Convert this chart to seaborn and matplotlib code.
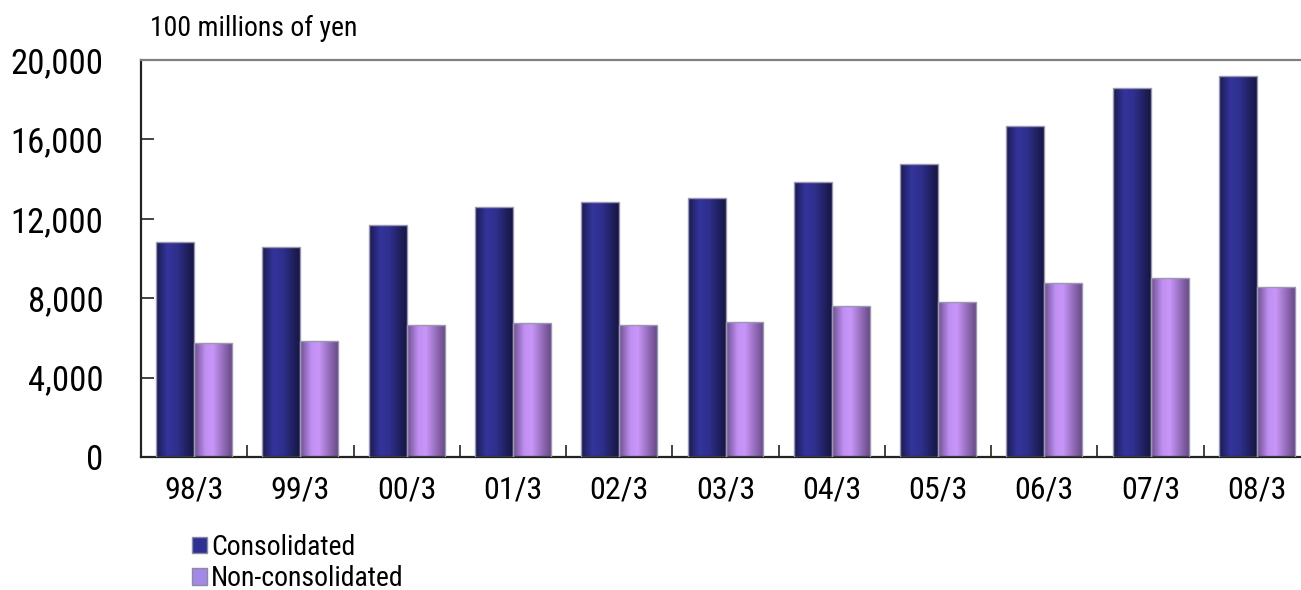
import numpy as np
import pandas as pd
import matplotlib
matplotlib.use("Agg")
import matplotlib.pyplot as plt
from matplotlib.colors import LinearSegmentedColormap
from matplotlib.patches import Patch
from matplotlib.ticker import FixedLocator
import seaborn as sns

periods = ["98/3", "99/3", "00/3", "01/3", "02/3", "03/3", "04/3", "05/3", "06/3", "07/3", "08/3"]
consolidated = [10810, 10600, 11670, 12600, 12850, 13050, 13850, 14760, 16700, 18610, 19190]
non_consolidated = [5730, 5830, 6640, 6750, 6650, 6800, 7600, 7800, 8760, 9000, 8550]
series_names = ["Consolidated", "Non-consolidated"]
y_ticks = [0, 4000, 8000, 12000, 16000, 20000]
unit_label = "100 millions of yen"

df = pd.DataFrame({
    "period": periods * 2,
    "value": consolidated + non_consolidated,
    "series": [series_names[0]] * len(periods) + [series_names[1]] * len(periods),
})

sns.set_style("white")
plt.rcParams["font.family"] = ["Roboto Condensed", "Liberation Sans Narrow", "DejaVu Sans"]
plt.rcParams["text.color"] = "black"
plt.rcParams["xtick.color"] = "black"
plt.rcParams["ytick.color"] = "black"

fig = plt.figure(figsize=(13.01, 5.90), dpi=100)
ax = fig.add_axes([141 / 1301, 1 - 457 / 590, 1169 / 1301, 397 / 590])

base_colors = {series_names[0]: "#2E3192", series_names[1]: "#C896F8"}
sns.barplot(data=df, x="period", y="value", hue="series", order=periods,
            hue_order=series_names, palette=base_colors, width=0.715,
            saturation=1, legend=False, ax=ax)

# cylinder-like horizontal shading for each bar
shades = {
    series_names[0]: LinearSegmentedColormap.from_list(
        "cons", [(0, "#1A1A4E"), (0.3, "#34349C"), (0.55, "#2F2F8E"), (1, "#161642")]),
    series_names[1]: LinearSegmentedColormap.from_list(
        "noncons", [(0, "#6C4E8E"), (0.3, "#C090F2"), (0.5, "#C896F8"), (1, "#684A86")]),
}
grad = np.linspace(0, 1, 256).reshape(1, -1)
n = len(periods)
bars = list(ax.patches)
for i, patch in enumerate(bars):
    name = series_names[0] if i < n else series_names[1]
    x0, w, h = patch.get_x(), patch.get_width(), patch.get_height()
    img = ax.imshow(grad, cmap=shades[name], aspect="auto",
                    extent=[x0, x0 + w, 0, h], zorder=2, interpolation="bicubic")
    img.set_clip_path(patch)
    patch.set_facecolor("none")
    patch.set_edgecolor("#9A98B0")
    patch.set_linewidth(1.0)
    patch.set_zorder(3)

ax.set_xlim(-0.5, len(periods) - 0.5)
ax.set_ylim(0, 20000)
ax.set_xlabel("")
ax.set_ylabel("")

ax.set_yticks(y_ticks)
ax.set_yticklabels([f"{v:,}" for v in y_ticks], fontsize=25)
ax.tick_params(axis="y", direction="in", length=9, width=1.2, color="#222222",
               pad=27, left=True)
ax.set_xticks(range(len(periods)))
ax.set_xticklabels(periods, fontsize=23)
ax.tick_params(axis="x", which="major", length=0, pad=13)
ax.xaxis.set_minor_locator(FixedLocator(np.arange(0.5, len(periods) - 0.5, 1)))
ax.tick_params(axis="x", which="minor", direction="in", length=9, width=1.2,
               color="#222222", bottom=True)

for side in ["left", "bottom"]:
    ax.spines[side].set_color("#222222")
    ax.spines[side].set_linewidth(1.6)
ax.spines["top"].set_color("#808080")
ax.spines["top"].set_linewidth(1.6)
ax.spines["right"].set_color("#808080")

fig.text(150 / 1301, 1 - 28 / 590, unit_label, fontsize=20, va="center", ha="left")

handles = [Patch(facecolor="#2E3192", edgecolor="#8A8AA0", label=series_names[0]),
           Patch(facecolor="#A488E6", edgecolor="#8A8AA0", label=series_names[1])]
fig.legend(handles=handles, loc="upper left", bbox_to_anchor=(178 / 1301, 1 - 520 / 590),
           frameon=False, fontsize=20, handlelength=0.55, handleheight=0.55,
           handletextpad=0.15, labelspacing=0.15, borderpad=0)

fig.savefig("out.png", dpi=100)
